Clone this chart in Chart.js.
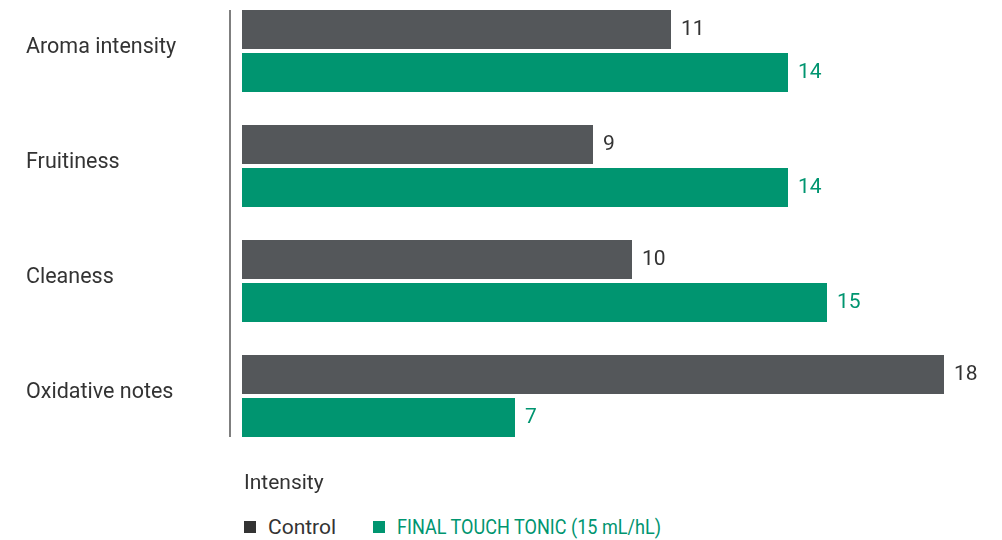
<!DOCTYPE html>
<html>
<head>
<meta charset="utf-8">
<script src="https://cdn.jsdelivr.net/npm/chart.js@4"></script>
<style>
  body { margin: 0; background: #fff; width: 1002px; height: 540px; overflow: hidden; position: relative; font-family: Roboto, sans-serif; }
  #wrap { position: absolute; left: 0; top: -20px; width: 1002px; height: 500px; }
  .axisTitle { position: absolute; left: 244px; top: 470px; font-size: 21px; color: #333; }
  #legend { position: absolute; left: 244px; top: 515px; font-size: 21px; display: flex; align-items: center; }
  .item { display: flex; align-items: center; margin-right: 37px; }
  .box { width: 12px; height: 12px; margin-right: 12px; }
  .cond { display: inline-block; transform: scaleX(0.86); transform-origin: left center; }
</style>
</head>
<body>
<div id="wrap"><canvas id="chart"></canvas></div>
<div class="axisTitle">Intensity</div>
<div id="legend"></div>
<script>
/* ====== DATA ====== */
const categories = ['Aroma intensity', 'Fruitiness', 'Cleaness', 'Oxidative notes'];
const controlValues = [11, 9, 10, 18];
const tonicValues = [14, 14, 15, 7];
const seriesNames = ['Control', 'FINAL TOUCH TONIC (15 mL/hL)'];

const GREY = '#54575a';
const GREEN = '#009570';

/* value labels right of each bar */
const valueLabels = {
    id: 'valueLabels',
    afterDatasetsDraw(chart) {
        const ctx = chart.ctx;
        ctx.save();
        ctx.font = '21px Roboto';
        ctx.textAlign = 'left';
        ctx.textBaseline = 'middle';
        chart.data.datasets.forEach((ds, i) => {
            const meta = chart.getDatasetMeta(i);
            meta.data.forEach((bar, j) => {
                ctx.fillStyle = i === 0 ? '#333' : GREEN;
                ctx.fillText(String(ds.data[j]), bar.x + 10, bar.y);
            });
        });
        // short vertical axis line
        ctx.strokeStyle = '#555';
        ctx.lineWidth = 1.5;
        ctx.beginPath();
        ctx.moveTo(chart.chartArea.left, 30);
        ctx.lineTo(chart.chartArea.left, 457);
        ctx.stroke();
        ctx.restore();
    }
};

const chart = new Chart(document.getElementById('chart'), {
    type: 'bar',
    data: {
        labels: categories,
        datasets: [
            { label: seriesNames[0], data: controlValues, backgroundColor: GREY },
            { label: seriesNames[1], data: tonicValues, backgroundColor: GREEN }
        ]
    },
    options: {
        indexAxis: 'y',
        responsive: false,
        animation: false,
        maintainAspectRatio: false,
        categoryPercentage: 0.748,
        barPercentage: 0.907,
        layout: { padding: { left: 26, right: 19, top: 13.5, bottom: 26.5 } },
        scales: {
            x: { display: false, min: -12 / 39, max: 19 },
            y: {
                grid: { display: false },
                border: { display: false },
                ticks: { crossAlign: 'far', color: '#333', font: { family: 'Roboto', size: 21.5 }, padding: 0, labelOffset: -3 },
                afterFit(scale) { scale.width = 204; }
            }
        },
        plugins: { legend: { display: false }, tooltip: { enabled: false } }
    },
    plugins: [valueLabels]
});
chart.canvas.style.width = '1002px';
chart.resize(1002, 500);

/* legend built from the datasets */
const legend = document.getElementById('legend');
chart.data.datasets.forEach((ds, i) => {
    const item = document.createElement('div');
    item.className = 'item';
    const box = document.createElement('div');
    box.className = 'box';
    box.style.background = i === 0 ? '#333' : GREEN;
    const txt = document.createElement('span');
    txt.textContent = ds.label;
    if (i === 1) { txt.className = 'cond'; txt.style.color = GREEN; }
    else txt.style.color = '#333';
    item.appendChild(box);
    item.appendChild(txt);
    legend.appendChild(item);
});
</script>
</body>
</html>
